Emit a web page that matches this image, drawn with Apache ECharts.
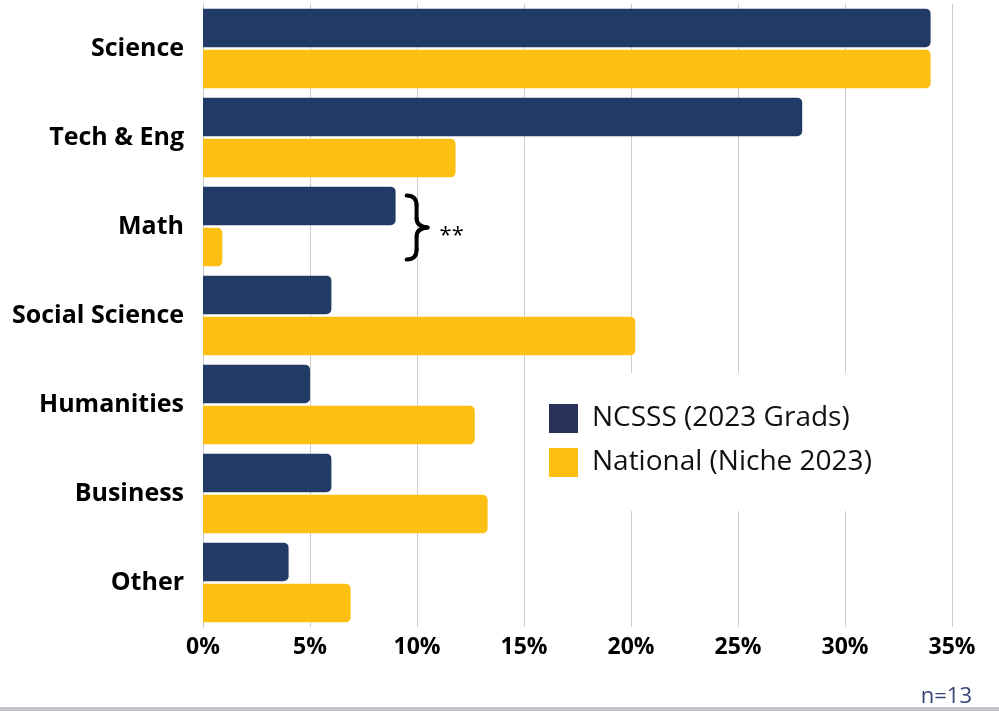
<!DOCTYPE html>
<html>
<head>
<meta charset="utf-8">
<script src="https://cdn.jsdelivr.net/npm/echarts@6/dist/echarts.min.js"></script>
<style>
  html, body { margin: 0; padding: 0; background: #ffffff; }
  #chart { width: 999px; height: 711px; }
</style>
</head>
<body>
<div id="chart"></div>
<script>
// Field of study shares (percent)
const categories = ['Science', 'Tech & Eng', 'Math', 'Social Science', 'Humanities', 'Business', 'Other'];
const ncsssValues = [34.0, 28.0, 9.0, 6.0, 5.0, 6.0, 4.0];
const nationalValues = [34.0, 11.8, 0.9, 20.2, 12.7, 13.3, 6.9];
const seriesNames = ['NCSSS (2023 Grads)', 'National (Niche 2023)'];
const xTicks = [0, 5, 10, 15, 20, 25, 30, 35];
const sampleNote = 'n=13';
const significanceMark = '**';
const markedCategory = 'Math';

const NAVY = '#223A66';
const GOLD = '#FDBF12';
const FONT = '"Open Sans", "Noto Sans", sans-serif';

const chart = echarts.init(document.getElementById('chart'), null, { renderer: 'canvas' });

const option = {
  backgroundColor: '#ffffff',
  animation: false,
  grid: { left: 203, right: 47, top: 4, bottom: 84, containLabel: false },
  xAxis: {
    type: 'value',
    min: xTicks[0],
    max: xTicks[xTicks.length - 1],
    interval: 5,
    axisLine: { show: false },
    axisTick: { show: false },
    splitLine: { show: true, lineStyle: { color: '#cccccc', width: 1 } },
    axisLabel: {
      formatter: v => v + '%',
      color: '#000000',
      fontFamily: FONT,
      fontWeight: 'bold',
      fontSize: 23,
      margin: 9
    }
  },
  yAxis: {
    type: 'category',
    data: categories,
    inverse: true,
    axisLine: { show: true, lineStyle: { color: '#c8c8c8', width: 1 } },
    axisTick: { show: false },
    axisLabel: {
      color: '#000000',
      fontFamily: FONT,
      fontWeight: 'bold',
      fontSize: 25,
      margin: 19
    }
  },
  legend: {
    orient: 'vertical',
    left: 532,
    top: 373,
    padding: [31, 40, 34, 17],
    backgroundColor: '#ffffff',
    itemWidth: 29,
    itemHeight: 29,
    itemGap: 15,
    icon: 'rect',
    textStyle: { color: '#111111', fontFamily: FONT, fontSize: 28, lineHeight: 29, padding: [0, 0, 0, 9] },
    data: [
      { name: seriesNames[0], itemStyle: { color: '#283159' } },
      { name: seriesNames[1], itemStyle: { color: GOLD } }
    ]
  },
  series: [
    {
      name: seriesNames[0],
      type: 'bar',
      data: ncsssValues,
      barWidth: 38.5,
      barGap: '7%',
      barCategoryGap: '10%',
      itemStyle: { color: NAVY, borderRadius: [0, 5, 5, 0] }
    },
    {
      name: seriesNames[1],
      type: 'bar',
      data: nationalValues,
      barWidth: 38.5,
      barGap: '7%',
      barCategoryGap: '10%',
      itemStyle: { color: GOLD, borderRadius: [0, 5, 5, 0] }
    }
  ]
};

chart.setOption(option);

// Curly brace and significance marker beside the marked category's bars
const idx = categories.indexOf(markedCategory);
const refVal = Math.max(ncsssValues[idx], nationalValues[idx]);
const p = chart.convertToPixel({ gridIndex: 0 }, [refVal, markedCategory]);
const bx = p[0] + 11;
const cy = p[1] + 1;
const h = 32;
const braceStyle = { stroke: '#000000', lineWidth: 4, lineCap: 'round', fill: null };
const sx = bx + 10;   // x of the brace's vertical strokes
const tip = bx + 21;  // x of the brace's middle point

chart.setOption({
  graphic: [
    {
      type: 'group',
      z: 10,
      children: [
        { type: 'bezierCurve', shape: { x1: bx, y1: cy - h, x2: sx, y2: cy - h + 10, cpx1: sx, cpy1: cy - h }, style: braceStyle },
        { type: 'line', shape: { x1: sx, y1: cy - h + 10, x2: sx, y2: cy - 9 }, style: braceStyle },
        { type: 'bezierCurve', shape: { x1: sx, y1: cy - 9, x2: tip, y2: cy, cpx1: sx, cpy1: cy - 1 }, style: braceStyle },
        { type: 'bezierCurve', shape: { x1: tip, y1: cy, x2: sx, y2: cy + 9, cpx1: sx, cpy1: cy + 1 }, style: braceStyle },
        { type: 'line', shape: { x1: sx, y1: cy + 9, x2: sx, y2: cy + h - 10 }, style: braceStyle },
        { type: 'bezierCurve', shape: { x1: sx, y1: cy + h - 10, x2: bx, y2: cy + h, cpx1: sx, cpy1: cy + h }, style: braceStyle }
      ]
    },
    {
      type: 'text',
      x: bx + 33,
      y: cy + 8,
      z: 10,
      style: {
        text: significanceMark,
        fill: '#000000',
        font: '22px ' + FONT,
        verticalAlign: 'middle'
      }
    },
    {
      type: 'text',
      right: 27,
      bottom: 3,
      style: {
        text: sampleNote,
        fill: '#3A4575',
        font: '22px ' + FONT
      }
    },
    {
      type: 'rect',
      left: 0,
      bottom: 0,
      shape: { width: 999, height: 4 },
      style: { fill: '#C2C5C9' }
    }
  ]
});
</script>
</body>
</html>
